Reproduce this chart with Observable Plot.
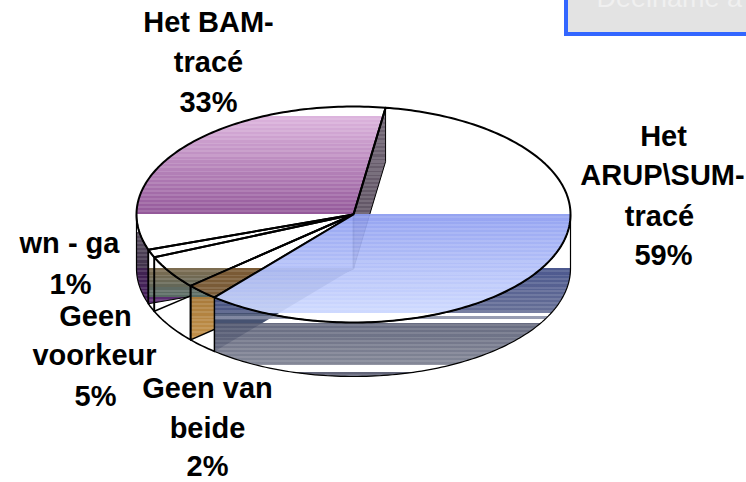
<!DOCTYPE html>
<html><head><meta charset="utf-8">
<script src="https://cdn.jsdelivr.net/npm/d3@7"></script>
<script src="https://cdn.jsdelivr.net/npm/@observablehq/plot@0.6"></script>
<style>html,body{margin:0;padding:0;background:#fff;overflow:hidden}svg{display:block}</style>
</head><body><div id="chart"></div>
<script>
const categories = ["Het ARUP\\SUM-tracé","Geen van beide","Geen voorkeur","wn - ga","Het BAM-tracé"];
const values = [58.7,2.45,5,1.2,32.65];
const labelLines = [["Het","ARUP\\SUM-","tracé"],["Geen van","beide"],["Geen","voorkeur"],["wn - ga"],["Het BAM-","tracé"]];

// layout
const W=746,H=482,cx=353,cy=214,rx=217,ry=108,depth=54,startDeg=8.5;
const labelX=[[663,662,659,663],[207,207,207],[95,94,95],[69,70],[208,208,208]];
const labelY=[[136,175,216,255],[388,428,466],[316,355,396],[243,284],[22,62,102]];
const FS=29;

// slices through d3.pie
const rad=d=>d*Math.PI/180;
const arcs=d3.pie().sort(null).startAngle(rad(startDeg)).endAngle(rad(startDeg+360))(values);
const [aArup,aBeide,aVoor,aWn,aBam]=arcs;
const pt=(a,dz=0)=>({x:cx+rx*Math.sin(a),y:cy-ry*Math.cos(a)+dz});
const centre=(dz=0)=>({x:cx,y:cy+dz});
const rim=(a0,a1,dz=0)=>{const n=Math.max(2,Math.ceil(Math.abs(a1-a0)/0.02));return d3.range(n+1).map(i=>pt(a0+(a1-a0)*i/n,dz));};
const shut=p=>[...p,p[0]];
const face=s=>shut([centre(),...rim(s.startAngle,s.endAngle)]);
const outer=(a0,a1)=>shut([...rim(a0,a1),...rim(a1,a0,depth)]);
const radial=a=>shut([centre(),pt(a),pt(a,depth),centre(depth)]);

// striped gradients
function gradient(id,bands,gap){
  const g=d3.create("svg:linearGradient").attr("id",id).attr("gradientUnits","userSpaceOnUse")
    .attr("x1",0).attr("x2",0).attr("y1",0).attr("y2",H);
  const stop=(y,c,o)=>g.append("stop").attr("offset",y/H).attr("stop-color",c).attr("stop-opacity",o);
  const gapO=gap?1:0;
  let prev=0;
  for(const [y0,y1,c0,c1] of bands){
    stop(prev,"#fff",gapO);stop(y0,"#fff",gapO);
    const mix=d3.interpolateRgb(c0,c1);
    let i=0;
    for(let y=y0;y<y1;y+=2,i++){
      const t=(y-y0)/Math.max(1,y1-y0);
      const base=mix(t);
      const c=i%2?d3.interpolateRgb(base,"#fff")(0.12):base;
      const e=Math.min(y+2,y1);
      stop(y,c,1);stop(e,c,1);
    }
    prev=y1;
  }
  stop(prev,"#fff",gapO);stop(H,"#fff",gapO);
  return g.node();
}
const defsMark=()=>{
  const root=d3.create("svg:g");
  const defs=root.append("defs");
  const add=(id,b,gap)=>defs.node().appendChild(gradient(id,b,gap));
  add("gBam",[[116,214,"#dcb4dd","#935799"]]);
  add("gArup",[[214,313,"#8c9cf0","#ccd8ff"]],false);
  add("gBack",[[106,268,"#6f6473","#5c5060"]]);
  add("gLeft",[[232,268,"#5a5060","#3e2f4a"],[268,306,"#3f2250","#4a1f60"]]);
  add("gDeep",[[268,287,"#7c6c50","#5f6658"],[287,297,"#5e6a62","#566a62"],[297,304,"#5a2d70","#5a2d70"]]);
  add("gOrange",[[287,297,"#5e6a62","#566a62"],[297,345,"#a87a3a","#c8954c"]]);
  add("gRadial",[[268,352,"#3f4c70","#4a5572"]]);
  add("gBeide",[[268,300,"#7a5a34","#7a5c3a"]]);
  add("gWall",[[268,313,"#34427f","#525c88"],[316,318,"#8a90a8","#8a90a8"],[322,365,"#52576f","#74788a"],[372,380,"#4c4f66","#4c4f66"]],false);
  return root.node();
};

const poly=(pts,fill,opts={})=>Plot.line(pts,{x:"x",y:"y",fill,stroke:"#000",strokeWidth:1.6,strokeLinejoin:"round",...opts});
const lab=labelLines.flatMap((ls,i)=>[...ls,`${Math.round(values[i])}%`].map((t,j)=>({t,x:labelX[i][j],y:labelY[i][j]})));

const chart=Plot.plot({
  width:W,height:H,margin:0,
  x:{domain:[0,W],range:[0,W],axis:null},
  y:{domain:[0,H],range:[0,H],axis:null},
  style:{background:"transparent"},
  marks:[
    defsMark,
    poly(radial(aBam.endAngle),"url(#gBack)",{strokeWidth:1}),
    poly(outer(aWn.endAngle,rad(270)),"url(#gLeft)",{strokeWidth:1.2}),
    poly(radial(aWn.endAngle),"url(#gDeep)",{strokeWidth:1.2}),
    poly(outer(aVoor.startAngle,aVoor.endAngle),"none",{strokeWidth:1.6}),
    poly(outer(aWn.startAngle,aWn.endAngle),"none",{strokeWidth:1.6}),
    poly([pt(aVoor.endAngle,depth),pt(aBeide.endAngle,10)],"none",{strokeWidth:1.6}),
    poly(radial(aBeide.endAngle),"url(#gOrange)",{strokeWidth:1.6}),
    poly(outer(aBeide.startAngle,aBeide.endAngle),"none",{strokeWidth:1.6}),
    poly(radial(aArup.endAngle),"url(#gRadial)",{stroke:"none"}),
    poly(outer(rad(90),aArup.endAngle),"url(#gWall)",{strokeWidth:1.2,fillOpacity:0.88}),
    poly(face(aBam),"url(#gBam)",{strokeWidth:2}),
    poly(face(aWn),"none",{strokeWidth:2}),
    poly(face(aVoor),"url(#gDeep)",{strokeWidth:2}),
    poly(face(aBeide),"url(#gBeide)",{strokeWidth:2}),
    poly(face(aArup),"url(#gArup)",{strokeWidth:2,fillOpacity:0.92}),
    Plot.text(lab,{x:"x",y:"y",text:"t",fontSize:FS,fontWeight:"bold",fontFamily:"Liberation Sans, Arial, sans-serif",fill:"#000"}),
    Plot.rect([{a:566,b:770,c:-10,d:34}],{x1:"a",x2:"b",y1:"c",y2:"d",fill:"#e3e3e3",stroke:"#3366ff",strokeWidth:4}),
    Plot.text(["Deelname a"],{x:596,y:-2,text:d=>d,fontSize:27,fill:"#f0f0f0",textAnchor:"start",fontFamily:"Liberation Sans, Arial, sans-serif"})
  ]
});
document.getElementById("chart").appendChild(chart);
</script></body></html>
